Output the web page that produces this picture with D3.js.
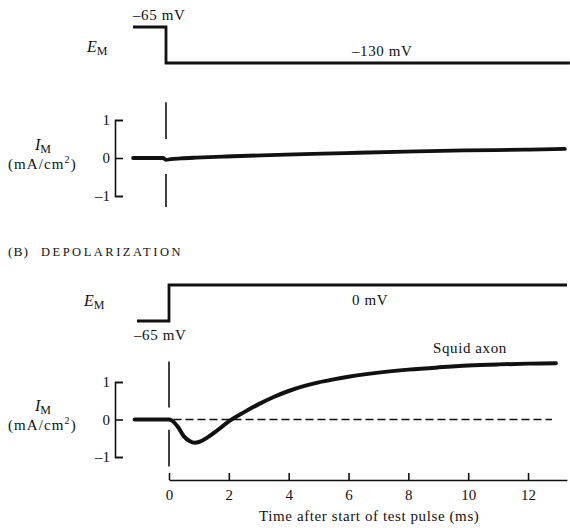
<!DOCTYPE html>
<html>
<head>
<meta charset="utf-8">
<script src="https://cdn.jsdelivr.net/npm/d3@7/dist/d3.min.js"></script>
<style>
  html, body { margin: 0; padding: 0; background: #fff; }
  svg { display: block; }
  text { font-family: "Liberation Serif", "Times New Roman", serif; fill: #111; }
</style>
</head>
<body>
<svg id="chart" width="570" height="528"></svg>
<script>
// ---------------- data ----------------
// Panel A (hyperpolarization): command voltage steps (time ms, mV)
const emA_time = [-1.1, 0, 13.5];
const emA_mV   = [-65, -130, -130];
// Panel A membrane current (time ms, mA/cm2)
const imA_time = [-1.1, -0.1, 0, 0.15, 0.5, 1, 2, 4, 6, 8, 10, 12, 13.33];
const imA_val  = [0, 0, -0.05, -0.03, -0.01, 0.01, 0.04, 0.09, 0.13, 0.17, 0.2, 0.22, 0.24];

// Panel B (depolarization)
const emB_time = [-1.07, 0, 13.3];
const emB_mV   = [-65, 0, 0];
const imB_time = [-1.15, 0, 0.1, 0.3, 0.5, 0.7, 0.85, 1.0, 1.3, 1.6, 2.0, 2.5, 3.0, 3.5, 4.0, 4.5, 5.0, 5.5, 6, 7, 8, 9, 10, 11, 12, 12.93];
const imB_val  = [0, 0, -0.03, -0.2, -0.45, -0.58, -0.62, -0.6, -0.47, -0.3, -0.05, 0.19, 0.41, 0.6, 0.76, 0.89, 0.99, 1.07, 1.14, 1.25, 1.33, 1.39, 1.44, 1.47, 1.49, 1.5];
const zeroLine_time = [0.15, 12.8];

const xTicks = [0, 2, 4, 6, 8, 10, 12];
const yTicks = [-1, 0, 1];
const yTickLabels = ["\u20131", "0", "1"];

// ---------------- chart ----------------
const svg = d3.select("#chart");
const ink = "#111";

const pxPerMs = 29.92;
const x  = d3.scaleLinear().domain([0, 13.3]).range([169, 169 + 13.3 * pxPerMs]);
const xA = d3.scaleLinear().domain([0, 13.3]).range([166, 166 + 13.3 * pxPerMs]);

const eA = d3.scaleLinear().domain([-130, -65]).range([63, 27]);
const iA = d3.scaleLinear().domain([-1, 1]).range([196, 120]);
const eB = d3.scaleLinear().domain([-65, 0]).range([321, 285]);
const iB = d3.scaleLinear().domain([-1, 1]).range([457, 382]);

function zip(a, b) { return a.map((d, i) => [d, b[i]]); }

// E_M steps
svg.append("path")
  .datum(zip(emA_time, emA_mV))
  .attr("d", d3.line().x(d => xA(d[0])).y(d => eA(d[1])).curve(d3.curveStepAfter))
  .attr("fill", "none").attr("stroke", ink).attr("stroke-width", 2.8);
svg.append("path")
  .datum(zip(emB_time, emB_mV))
  .attr("d", d3.line().x(d => x(d[0])).y(d => eB(d[1])).curve(d3.curveStepAfter))
  .attr("fill", "none").attr("stroke", ink).attr("stroke-width", 2.8);

// Y axes (brackets)
function yAxis(scale, xpos) {
  const g = svg.append("g").attr("transform", `translate(${xpos},0)`)
    .call(d3.axisLeft(scale).tickValues(yTicks).tickSize(-8).tickPadding(5)
      .tickFormat((d, i) => yTickLabels[i]));
  g.select(".domain").attr("stroke", ink).attr("stroke-width", 1.6);
  g.selectAll(".tick line").attr("stroke", ink).attr("stroke-width", 1.6);
  g.selectAll(".tick text").attr("font-family", "Liberation Serif").attr("font-size", 15).attr("fill", "#111");
}
yAxis(iA, 115);
yAxis(iB, 115);

// vertical dashed markers at t = 0
function vSeg(xs, scale, a, b) {
  svg.append("line")
    .attr("x1", xs(0)).attr("x2", xs(0))
    .attr("y1", scale(a)).attr("y2", scale(b))
    .attr("stroke", ink).attr("stroke-width", 1.6);
}
vSeg(xA, iA, 1.47, 0.5);
vSeg(xA, iA, -0.42, -1.29);
vSeg(x, iB, 1.55, 0.32);
vSeg(x, iB, -0.27, -1.25);

// zero dashed line panel B
svg.append("line")
  .attr("x1", x(zeroLine_time[0])).attr("x2", x(zeroLine_time[1]))
  .attr("y1", iB(0)).attr("y2", iB(0))
  .attr("stroke", ink).attr("stroke-width", 1.5).attr("stroke-dasharray", "8,4");

// current traces
svg.append("path")
  .datum(zip(imA_time, imA_val))
  .attr("d", d3.line().x(d => xA(d[0])).y(d => iA(d[1])).curve(d3.curveMonotoneX))
  .attr("fill", "none").attr("stroke", ink).attr("stroke-width", 3.8).attr("stroke-linecap", "round");
svg.append("path")
  .datum(zip(imB_time, imB_val))
  .attr("d", d3.line().x(d => x(d[0])).y(d => iB(d[1])).curve(d3.curveMonotoneX))
  .attr("fill", "none").attr("stroke", ink).attr("stroke-width", 4).attr("stroke-linecap", "round");

// x axis
const xg = svg.append("g").attr("transform", "translate(0,480)")
  .call(d3.axisBottom(x).tickValues(xTicks).tickSize(-7).tickSizeOuter(0).tickPadding(9));
xg.select(".domain").attr("stroke", ink).attr("stroke-width", 1.6);
xg.selectAll(".tick line").attr("stroke", ink).attr("stroke-width", 1.6);
xg.selectAll(".tick text").attr("font-family", "Liberation Serif").attr("font-size", 15).attr("fill", "#111");

// ---------------- text labels ----------------
function label(txt, xp, yp, size, extra) {
  const t = svg.append("text").attr("x", xp).attr("y", yp).attr("font-size", size).text(txt);
  if (extra) extra(t);
  return t;
}
const ls = t => t.attr("letter-spacing", 0.6);

label("\u201365 mV", 133, 20, 15, ls);
label("\u2013130 mV", 352, 56, 15, ls);
label("0 mV", 352, 305, 15, ls);
label("\u201365 mV", 134, 340, 15, ls);
label("Squid axon", 433, 353, 15, ls);
label("Time after start of test pulse (ms)", 259, 521, 15, ls);

// (B) DEPOLARIZATION
const dep = svg.append("text").attr("x", 8).attr("y", 256);
dep.append("tspan").attr("font-size", 13.5).attr("letter-spacing", 1).text("(B)");
dep.append("tspan").attr("dx", 12).attr("font-size", 12.5).attr("letter-spacing", 2.5).text("DEPOLARIZATION");

// E_M labels
function emLabel(xp, yp) {
  const t = svg.append("text").attr("x", xp).attr("y", yp);
  t.append("tspan").attr("font-size", 16).attr("font-style", "italic").text("E");
  t.append("tspan").attr("font-size", 12).attr("dy", 3).text("M");
}
emLabel(87, 52);
emLabel(84, 306);

// I_M labels
function imLabel(yp) {
  const t = svg.append("text").attr("x", 35).attr("y", yp);
  t.append("tspan").attr("font-size", 16).attr("font-style", "italic").text("I");
  t.append("tspan").attr("font-size", 12).attr("dy", 3).text("M");
  const u = svg.append("text").attr("x", 8).attr("y", yp + 19).attr("font-size", 15).attr("letter-spacing", 1.1);
  u.append("tspan").text("(mA/cm");
  u.append("tspan").attr("font-size", 10).attr("dy", -6).text("2");
  u.append("tspan").attr("dy", 6).text(")");
}
imLabel(150);
imLabel(411);
</script>
</body>
</html>
